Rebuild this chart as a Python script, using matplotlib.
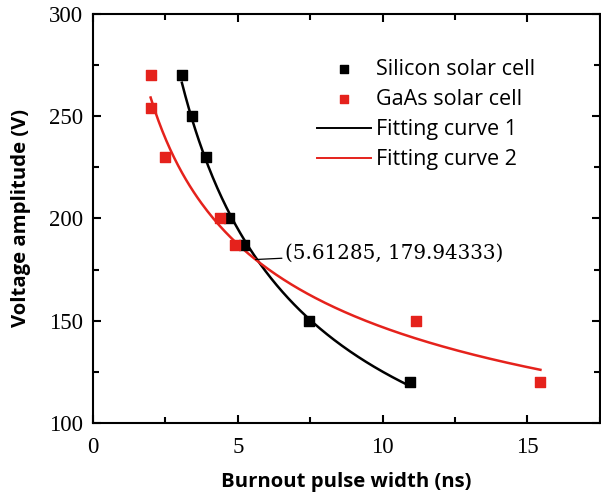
import numpy as np
import matplotlib.pyplot as plt
from matplotlib.ticker import MultipleLocator

# measured points
si_width = [3.07, 3.41, 3.9, 4.69, 5.2, 7.45, 10.93]
si_volt = [270, 250, 230, 200, 187, 150, 120]

gaas_width = [1.99, 1.99, 2.48, 4.4, 4.9, 11.14, 15.45]
gaas_volt = [270, 254, 230, 200, 187, 150, 120]

cross_x = 5.61285
cross_y = 179.94333

red = '#e5221c'


def power_fit(x, y):
    # fit y = a * x^b in log space
    b, lna = np.polyfit(np.log(x), np.log(y), 1)
    xs = np.linspace(min(x), max(x), 200)
    return xs, np.exp(lna) * xs ** b


def main():
    fig = plt.figure(figsize=(6.01, 4.94), dpi=100)
    ax = fig.add_axes([0.1547, 0.1437, 0.8433, 0.828])

    ax.scatter(si_width, si_volt, marker='s', s=52, color='black', zorder=3,
               label='Silicon solar cell')
    ax.scatter(gaas_width, gaas_volt, marker='s', s=52, color=red, zorder=3,
               label='GaAs solar cell')

    xs, ys = power_fit(si_width, si_volt)
    ax.plot(xs, ys, color='black', lw=1.8, label='Fitting curve 1')
    xs, ys = power_fit(gaas_width, gaas_volt)
    ax.plot(xs, ys, color=red, lw=1.8, label='Fitting curve 2')

    ax.annotate('(%.5f, %.5f)' % (cross_x, cross_y), xy=(cross_x, cross_y),
                xytext=(6.62, 183.2), va='center', ha='left',
                fontsize=14.3, family='DejaVu Serif',
                arrowprops=dict(arrowstyle='-', color='black', lw=0.9,
                                shrinkA=0, shrinkB=0))

    ax.set_xlim(0, 17.5)
    ax.set_ylim(100, 300)
    ax.xaxis.set_major_locator(MultipleLocator(5))
    ax.xaxis.set_minor_locator(MultipleLocator(2.5))
    ax.yaxis.set_major_locator(MultipleLocator(50))
    ax.yaxis.set_minor_locator(MultipleLocator(25))
    ax.tick_params(which='both', direction='in', top=True, right=True, width=1.5)
    ax.tick_params(which='major', length=6, labelsize=16.5)
    ax.tick_params(which='minor', length=4)
    ax.tick_params(axis='x', which='major', pad=10)
    ax.tick_params(axis='y', which='major', pad=7)
    for lab in ax.get_xticklabels() + ax.get_yticklabels():
        lab.set_family('Liberation Serif')
    for sp in ax.spines.values():
        sp.set_linewidth(1.5)

    ax.set_xlabel('Burnout pulse width (ns)', fontsize=14.6, fontweight='bold',
                  family='Open Sans', labelpad=10)
    ax.set_ylabel('Voltage amplitude (V)', fontsize=14.6, fontweight='bold',
                  family='Open Sans', labelpad=13)

    leg = ax.legend(loc='upper left', bbox_to_anchor=(0.442, 0.89), frameon=False,
                    prop={'family': 'Open Sans', 'size': 15.5, 'weight': 'medium'},
                    handlelength=2.5, markerscale=0.8, labelspacing=0.42,
                    handletextpad=0.25, borderpad=0, borderaxespad=0)
    for ln in leg.get_lines():
        ln.set_linewidth(1.4)

    fig.savefig('out.png', dpi=100)


if __name__ == '__main__':
    main()
